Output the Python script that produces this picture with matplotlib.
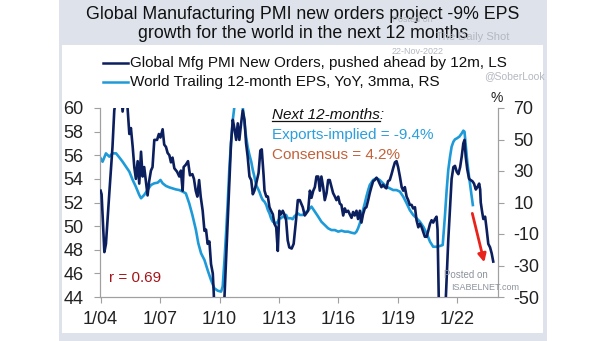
import matplotlib
matplotlib.use("Agg")
import matplotlib.pyplot as plt
from matplotlib.patches import Rectangle
from matplotlib.lines import Line2D

# ---------------- data ----------------
# Global Mfg PMI New Orders, pushed ahead by 12m (left axis)
pmi_t = [2004.0, 2004.05, 2004.19, 2004.27, 2004.44, 2004.6, 2004.69, 2004.85, 2005.0, 2005.11,
         2005.2, 2005.3, 2005.36, 2005.45, 2005.53, 2005.62, 2005.7, 2005.78, 2005.87, 2005.95,
         2006.04, 2006.12, 2006.2, 2006.29, 2006.37, 2006.45, 2006.54, 2006.62, 2006.71, 2006.85,
         2006.94, 2007.02, 2007.13, 2007.21, 2007.3, 2007.38, 2007.47, 2007.55, 2007.63, 2007.72,
         2007.86, 2007.97, 2008.05, 2008.14, 2008.19, 2008.3, 2008.41, 2008.51, 2008.63, 2008.71,
         2008.8, 2008.88, 2008.97, 2009.05, 2009.15, 2009.24, 2009.32, 2009.4, 2009.49, 2009.57,
         2009.66, 2009.71, 2009.8, 2009.95, 2010.1, 2010.25, 2010.33, 2010.5, 2010.58, 2010.67,
         2010.75, 2010.84, 2010.92, 2011.0, 2011.09, 2011.17, 2011.26, 2011.34, 2011.42, 2011.51,
         2011.6, 2011.68, 2011.76, 2011.85, 2011.97, 2012.06, 2012.13, 2012.22, 2012.27, 2012.36,
         2012.44, 2012.52, 2012.6, 2012.69, 2012.77, 2012.86, 2012.94, 2013.02, 2013.1, 2013.19,
         2013.27, 2013.36, 2013.44, 2013.52, 2013.64, 2013.74, 2013.86, 2013.95, 2014.05, 2014.2,
         2014.3, 2014.47, 2014.56, 2014.64, 2014.73, 2014.81, 2014.89, 2014.98, 2015.06, 2015.14,
         2015.23, 2015.31, 2015.4, 2015.48, 2015.56, 2015.65, 2015.73, 2015.82, 2015.9, 2015.99,
         2016.07, 2016.15, 2016.24, 2016.32, 2016.4, 2016.49, 2016.57, 2016.66, 2016.74, 2016.82,
         2016.91, 2016.99, 2017.08, 2017.16, 2017.24, 2017.33, 2017.41, 2017.5, 2017.58, 2017.66,
         2017.75, 2017.83, 2017.92, 2018.0, 2018.08, 2018.17, 2018.25, 2018.34, 2018.42, 2018.5,
         2018.59, 2018.68, 2018.76, 2018.85, 2018.93, 2019.01, 2019.1, 2019.19, 2019.27, 2019.35,
         2019.44, 2019.52, 2019.6, 2019.69, 2019.77, 2019.86, 2019.94, 2020.03, 2020.11, 2020.2,
         2020.28, 2020.36, 2020.45, 2020.53, 2020.62, 2020.7, 2020.78, 2020.87, 2020.95, 2021.0,
         2021.06, 2021.15, 2021.3, 2021.42, 2021.54, 2021.63, 2021.71, 2021.8, 2021.88, 2021.97,
         2022.05, 2022.14, 2022.22, 2022.3, 2022.36, 2022.42, 2022.5, 2022.59, 2022.67, 2022.76,
         2022.84, 2022.93, 2023.01, 2023.1, 2023.15, 2023.18, 2023.25, 2023.31, 2023.4, 2023.48,
         2023.56, 2023.65, 2023.73, 2023.81]
pmi_v = [53.0, 52.7, 47.8, 48.5, 52.8, 56.7, 59.8, 61.5, 62.0, 59.7,
         61.0, 61.5, 60.0, 57.8, 58.3, 56.7, 55.0, 54.0, 55.5, 53.6,
         56.3, 54.2, 55.0, 53.7, 52.6, 53.8, 54.7, 55.0, 57.3, 57.3,
         57.8, 57.5, 58.2, 56.9, 56.7, 56.2, 56.0, 55.4, 55.8, 54.9,
         54.6, 54.2, 54.7, 53.0, 55.0, 55.2, 55.5, 54.3, 54.4, 54.0,
         53.0, 52.5, 53.9, 52.5, 51.3, 49.6, 49.7, 48.5, 48.7, 46.8,
         46.0, 44.3, 40.0, 37.5, 39.0, 44.0, 47.1, 53.6, 57.0, 59.0,
         58.3, 57.3, 58.7, 57.3, 58.7, 59.8, 59.0, 57.0, 55.9, 54.2,
         53.9, 52.7, 53.0, 53.6, 54.5, 56.4, 56.5, 54.4, 53.0, 52.5,
         52.5, 51.6, 51.3, 51.0, 50.2, 49.9, 47.9, 51.3, 51.0, 51.3,
         51.0, 50.5, 48.8, 48.2, 48.1, 48.5, 50.5, 52.2, 52.2, 51.6,
         50.9, 51.3, 53.0, 52.4, 53.0, 53.3, 54.2, 54.2, 53.0, 54.2,
         53.3, 52.2, 52.8, 53.9, 53.9, 53.3, 52.8, 52.5, 52.2, 52.5,
         51.9, 51.8, 50.9, 51.5, 51.2, 51.3, 51.0, 50.7, 51.2, 50.9,
         51.3, 50.6, 51.3, 50.3, 51.0, 51.5, 51.6, 52.2, 52.8, 53.3,
         53.8, 53.9, 54.1, 53.9, 53.6, 53.3, 53.5, 53.3, 53.2, 53.8,
         53.9, 54.4, 54.9, 55.4, 55.5, 55.0, 54.2, 53.3, 53.0, 53.3,
         52.5, 52.2, 51.8, 51.8, 51.5, 51.6, 50.5, 49.9, 50.2, 49.9,
         49.5, 49.1, 49.1, 49.6, 50.2, 50.5, 50.3, 50.6, 50.8, 49.7,
         44.0, 38.0, 38.5, 44.0, 48.8, 51.6, 54.0, 55.0, 55.1, 54.6,
         54.4, 55.0, 55.9, 57.0, 57.3, 55.9, 54.8, 54.0, 53.9, 53.8,
         53.6, 53.1, 53.3, 53.6, 53.1, 52.0, 51.2, 50.6, 50.8, 49.7,
         48.5, 48.2, 47.7, 47.0]

# World Trailing 12-month EPS, YoY, 3mma, % (right axis)
eps_t = [2004.0, 2004.1, 2004.27, 2004.44, 2004.6, 2004.78, 2004.94, 2005.11, 2005.28, 2005.45,
         2005.62, 2005.78, 2005.95, 2006.04, 2006.2, 2006.37, 2006.54, 2006.71, 2006.88, 2007.02,
         2007.13, 2007.3, 2007.47, 2007.63, 2007.8, 2007.97, 2008.14, 2008.3, 2008.47, 2008.63,
         2008.81, 2008.93, 2009.07, 2009.24, 2009.4, 2009.57, 2009.74, 2009.91, 2010.08, 2010.16,
         2010.25, 2010.33, 2010.42, 2010.5, 2010.58, 2010.67, 2010.75, 2010.9, 2011.05, 2011.17,
         2011.26, 2011.34, 2011.42, 2011.51, 2011.6, 2011.68, 2011.76, 2011.85, 2011.93, 2012.01,
         2012.1, 2012.18, 2012.27, 2012.36, 2012.44, 2012.52, 2012.6, 2012.69, 2012.77, 2012.86,
         2012.94, 2013.02, 2013.1, 2013.19, 2013.27, 2013.36, 2013.44, 2013.52, 2013.6, 2013.69,
         2013.77, 2013.86, 2013.95, 2014.05, 2014.2, 2014.39, 2014.56, 2014.64, 2014.81, 2014.98,
         2015.14, 2015.31, 2015.48, 2015.65, 2015.82, 2015.99, 2016.15, 2016.32, 2016.49, 2016.66,
         2016.82, 2016.91, 2016.99, 2017.08, 2017.16, 2017.24, 2017.33, 2017.41, 2017.5, 2017.58,
         2017.75, 2017.92, 2018.08, 2018.25, 2018.42, 2018.59, 2018.76, 2018.93, 2019.1, 2019.27,
         2019.44, 2019.6, 2019.77, 2019.94, 2020.11, 2020.28, 2020.45, 2020.62, 2020.78, 2020.95,
         2021.12, 2021.26, 2021.37, 2021.46, 2021.54, 2021.63, 2021.71, 2021.8, 2021.88, 2021.97,
         2022.1, 2022.22, 2022.3, 2022.36, 2022.42, 2022.5, 2022.59, 2022.67, 2022.78]
eps_v = [38.1, 35.9, 41.2, 39.1, 41.2, 41.2, 38.7, 35.9, 32.7, 29.6,
         24.3, 20.0, 14.8, 12.7, 14.8, 17.9, 21.1, 22.2, 22.6, 24.3,
         22.2, 20.5, 19.6, 19.0, 18.3, 17.9, 16.9, 15.8, 9.5, 2.1,
         -7.5, -15.9, -22.3, -26.5, -32.9, -39.2, -44.5, -46.0, -46.6, -43.3,
         -26.5, -9.6, 11.6, 32.7, 47.6, 62.4, 70.8, 78.0, 78.0, 70.8,
         60.3, 51.8, 45.4, 40.2, 35.9, 30.6, 26.4, 21.1, 19.0, 16.9,
         13.7, 11.6, 10.5, 8.4, 5.2, 3.1, 0.0, -2.2, -2.8, -3.2,
         -2.2, 0.0, 0.0, 1.1, 0.6, 2.1, 0.0, 0.0, 0.0, -0.6,
         1.1, 2.1, 3.1, 2.1, 2.1, 4.2, 6.3, 7.4, 4.2, 1.0,
         -2.2, -4.3, -6.4, -7.5, -7.5, -8.5, -7.9, -8.5, -8.5, -9.2,
         -9.6, -8.5, -6.4, -3.2, 1.0, 5.2, 9.5, 13.7, 17.9, 21.1,
         24.3, 25.4, 24.3, 22.2, 20.0, 19.0, 17.9, 17.9, 16.9, 13.7,
         9.5, 5.2, 2.1, 0.0, -2.2, -5.4, -9.6, -14.9, -18.1, -18.1,
         -17.6, -17.0, 1.0, 17.9, 30.6, 39.1, 45.4, 48.6, 50.1, 50.7,
         51.8, 53.9, 55.6, 55.0, 46.5, 35.9, 26.4, 19.0, 8.4]

# projection arrow (start, end) on right axis
arrow_t = [2022.72, 2023.39]
arrow_v = [4.8, -29.7]

x_ticks = [2004, 2007, 2010, 2013, 2016, 2019, 2022]
x_labels = ["1/04", "1/07", "1/10", "1/13", "1/16", "1/19", "1/22"]
left_ticks = [44, 46, 48, 50, 52, 54, 56, 58, 60]
right_ticks = [-50, -30, -10, 10, 30, 50, 70]

title = "Global Manufacturing PMI new orders project -9% EPS\ngrowth for the world in the next 12 months"
leg1 = "Global Mfg PMI New Orders, pushed ahead by 12m, LS"
leg2 = "World Trailing 12-month EPS, YoY, 3mma, RS"

NAVY = "#0b1f5e"
LBLUE = "#1e9ad9"
FONT = ["Liberation Sans", "DejaVu Sans"]
plt.rcParams["font.family"] = FONT
plt.rcParams["axes.unicode_minus"] = False

W, H = 605, 341
fig = plt.figure(figsize=(W / 100, H / 100), dpi=100)
fig.patch.set_facecolor("white")

def fx(px):
    return px / W

def fy(py):
    return 1 - py / H

# frame panels (behind everything)
fig.patches.append(Rectangle((fx(59), 0), fx(547) - fx(59), 1, transform=fig.transFigure,
                             facecolor="#dde2eb", edgecolor="none", zorder=-10))
fig.patches.append(Rectangle((fx(62), fy(333)), fx(543) - fx(62), fy(45) - fy(333),
                             transform=fig.transFigure, facecolor="white", edgecolor="none",
                             zorder=-9))

ax = fig.add_axes([fx(100), fy(297), fx(498) - fx(100), fy(108) - fy(297)])
ax.set_facecolor("none")
ax2 = ax.twinx()
ax.set_zorder(2)
ax2.set_zorder(1)

ax.plot(pmi_t, pmi_v, color=NAVY, lw=1.9, zorder=3)
ax2.plot(eps_t, eps_v, color=LBLUE, lw=1.9, zorder=2)
ax2.annotate("", xy=(arrow_t[1], arrow_v[1]), xytext=(arrow_t[0], arrow_v[0]),
             arrowprops=dict(arrowstyle="-|>", color="#e8231b", lw=2.0, mutation_scale=12))

ax.set_xlim(2003.97, 2024.05)
ax.set_ylim(44, 60)
ax2.set_ylim(-50, 70)
ax.set_xticks(x_ticks)
ax.set_xticklabels(x_labels)
ax.set_yticks(left_ticks)
ax2.set_yticks(right_ticks)

spine_c = "#a0a0a0"
for a in (ax, ax2):
    for s in a.spines.values():
        s.set_color(spine_c)
        s.set_linewidth(0.8)
    a.spines["top"].set_visible(False)
    a.tick_params(colors=spine_c, labelcolor="#222222", labelsize=13, length=4, width=0.8)
ax.tick_params(axis="x", pad=6)
ax.tick_params(axis="y", pad=8)
ax2.tick_params(axis="y", pad=7)

# title and legend
fig.text(fx(303), fy(24), title, ha="center", va="center", fontsize=12.8, color="#111111",
         linespacing=1.15)
for ypx, col, txt in [(63, NAVY, leg1), (82, LBLUE, leg2)]:
    fig.add_artist(Line2D([fx(103), fx(128)], [fy(ypx), fy(ypx)], color=col, lw=1.8,
                          transform=fig.transFigure))
    fig.text(fx(130), fy(ypx), txt, ha="left", va="center", fontsize=11, color="#111111")

fig.text(fx(497), fy(98), "%", ha="center", va="center", fontsize=10, color="#222222")

# annotations
t_next = fig.text(fx(272), fy(115), "Next 12-months:", ha="left", va="center", fontsize=11,
                  style="italic", color="#111111")
fig.text(fx(272), fy(135), "Exports-implied = -9.4%", ha="left", va="center", fontsize=11,
         color="#2b9fdb")
fig.text(fx(272), fy(155), "Consensus = 4.2%", ha="left", va="center", fontsize=11,
         color="#c2623a")
fig.text(fx(109), fy(278), "r = 0.69", ha="left", va="center", fontsize=11, color="#a3161a")

# watermarks
wm = "#b4b8c0"
fig.text(fx(392), fy(19), "Posted on", fontsize=6.5, color=wm, ha="left", va="center")
fig.text(fx(436), fy(37), "The Daily Shot", fontsize=8, color=wm, ha="left", va="center")
fig.text(fx(392), fy(52), "22-Nov-2022", fontsize=6.5, color=wm, ha="left", va="center")
fig.text(fx(484), fy(76), "@SoberLook", fontsize=7.5, color=wm, ha="left", va="center")
fig.text(fx(444), fy(275), "Posted on", fontsize=7, color="#8d939c", ha="left", va="center")
fig.text(fx(451), fy(288), "ISABELNET.com", fontsize=6.5, color="#8d939c", ha="left", va="center")

# underline for "Next 12-months"
fig.canvas.draw()
r = fig.canvas.get_renderer()
bb = t_next.get_window_extent(r)
ub = fig.transFigure.inverted().transform([[bb.x0, bb.y0 + 1], [bb.x1 - 4, bb.y0 + 1]])
fig.add_artist(Line2D(ub[:, 0], ub[:, 1], color="#111111", lw=0.9, transform=fig.transFigure))

fig.savefig("out.png", dpi=100)
